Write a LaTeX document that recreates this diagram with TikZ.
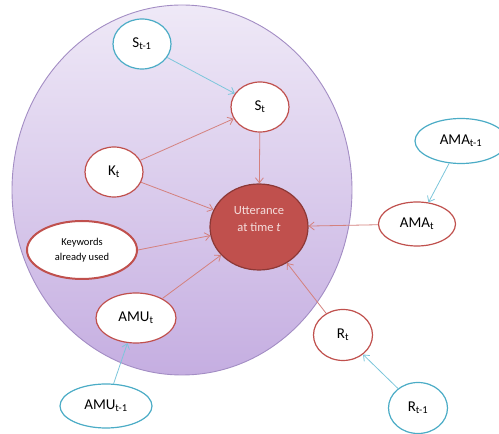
\documentclass[tikz,border=0pt]{standalone}
\usepackage{fontspec}
\setmainfont{Carlito}
\usepackage{xcolor}
\usetikzlibrary{arrows.meta,shapes.geometric}
\definecolor{nodered}{HTML}{C0504D}
\definecolor{arrowred}{HTML}{D4817E}
\definecolor{nodecyan}{HTML}{4BACC6}
\definecolor{arrowcyan}{HTML}{7CC6DB}
\definecolor{uttborder}{HTML}{8C3836}
\definecolor{utttext}{HTML}{F5DEDD}
\definecolor{ringtop}{HTML}{EFE9F7}
\definecolor{ringbottom}{HTML}{C5AEE1}
\definecolor{ringborder}{HTML}{A38DC4}

\begin{document}
\begin{tikzpicture}[x=1pt,y=1pt,>={Straight Barb[length=5pt,width=8pt]},line width=0.8pt]
\tikzstyle{rednode}=[draw=nodered, ellipse, fill=white, line width=1.2pt, inner sep=0pt, align=center, font=\fontsize{15}{18}\selectfont]
\tikzstyle{cyannode}=[draw=nodecyan, ellipse, fill=white, line width=1.2pt, inner sep=0pt, align=center, font=\fontsize{15}{18}\selectfont]
\tikzstyle{redarrow}=[->, draw=arrowred]
\tikzstyle{cyanarrow}=[->, draw=arrowcyan]
\useasboundingbox (0,0) rectangle (499,434);
% shared context region
\path[draw=ringborder, line width=0.9pt, top color=ringtop, bottom color=ringbottom] (182,244) ellipse [x radius=170, y radius=185];
% nodes
\node[cyannode, minimum width=58, minimum height=50] (sprev) at (142,390) {S\textsubscript{t-1}};
\node[rednode, minimum width=58, minimum height=50] (s) at (260,327) {S\textsubscript{t}};
\node[rednode, minimum width=58, minimum height=50] (k) at (114,262) {K\textsubscript{t}};
\node[draw=uttborder, ellipse, fill=nodered, line width=1.2pt, inner sep=0pt, minimum width=98, minimum height=86, align=center, text=utttext, font=\fontsize{12.5}{17}\selectfont] (utt) at (259,207) {Utterance\\at time \textit{t}\\\mbox{}};
\node[rednode, line width=2pt, minimum width=110, minimum height=58, font=\fontsize{10.5}{15}\selectfont] (kw) at (82,184) {Keywords\\already used};
\node[rednode, minimum width=80, minimum height=50] (amu) at (136,116) {AMU\textsubscript{t}};
\node[cyannode, minimum width=92, minimum height=44] (amuprev) at (106,28) {AMU\textsubscript{t-1}};
\node[cyannode, minimum width=92, minimum height=45] (amaprev) at (461,293) {AMA\textsubscript{t-1}};
\node[rednode, minimum width=77, minimum height=44] (ama) at (417,210) {AMA\textsubscript{t}};
\node[rednode, minimum width=59, minimum height=51] (r) at (343,99) {R\textsubscript{t}};
\node[cyannode, minimum width=59, minimum height=51] (rprev) at (418,26) {R\textsubscript{t-1}};
% connectors
\draw[cyanarrow] (sprev) -- (s);
\draw[redarrow] (k) -- (s);
\draw[redarrow] (s) -- (utt);
\draw[redarrow] (k) -- (utt);
\draw[redarrow] (kw.east) -- (utt.190);
\draw[redarrow] (amu) -- (utt);
\draw[redarrow] (ama) -- (utt);
\draw[redarrow] (r) -- (utt);
\draw[cyanarrow] (amaprev) -- (ama);
\draw[cyanarrow] (amuprev) -- (amu);
\draw[cyanarrow] (rprev) -- (r);
\end{tikzpicture}
\end{document}
